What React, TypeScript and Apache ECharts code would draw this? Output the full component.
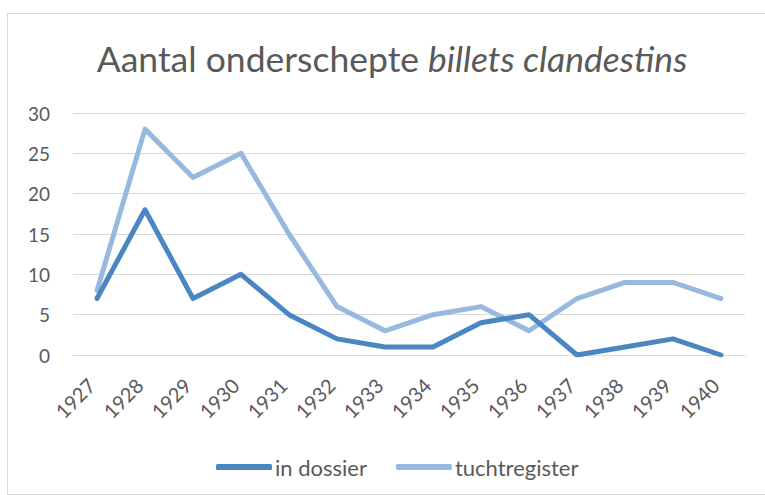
import React, { useEffect, useRef } from "react";
import * as echarts from "echarts";

const years = ["1927","1928","1929","1930","1931","1932","1933","1934","1935","1936","1937","1938","1939","1940"];
const inDossier = [7, 18, 7, 10, 5, 2, 1, 1, 4, 5, 0, 1, 2, 0];
const tuchtregister = [8, 28, 22, 25, 15, 6, 3, 5, 6, 3, 7, 9, 9, 7];
const seriesNames = ["in dossier", "tuchtregister"];
const colors = ["#4a86c1", "#97b9e0"];

export default function App() {
  const ref = useRef<HTMLDivElement>(null);
  useEffect(() => {
    if (!ref.current) return;
    const chart = echarts.init(ref.current, null, { renderer: "svg" });
    const font = "Lato, 'Open Sans', sans-serif";
    chart.setOption({
      animation: false,
      backgroundColor: "transparent",
      title: {
        text: "{n|Aantal onderschepte }{i|billets clandestins}",
        left: 387,
        textAlign: "center",
        top: 35,
        textStyle: {
          fontWeight: "normal",
          rich: {
            n: { fontFamily: font, fontSize: 35.5, color: "#595959", fontWeight: "normal" },
            i: { fontFamily: font, fontSize: 35.5, color: "#595959", fontStyle: "italic", fontWeight: "normal" },
          },
        },
      },
      legend: {
        top: 451,
        left: 211,
        itemWidth: 56,
        itemHeight: 6,
        itemGap: 29,
        icon: "roundRect",
        data: seriesNames,
        textStyle: { fontFamily: font, fontSize: 22, color: "#595959", padding: [0, 0, 0, -2] },
      },
      grid: { left: 73, right: 20, top: 113, bottom: 140 },
      xAxis: {
        type: "category",
        data: years,
        boundaryGap: true,
        axisLine: { show: true, lineStyle: { color: "#d9d9d9", width: 1 } },
        axisTick: { show: false },
        axisLabel: {
          rotate: 45,
          fontFamily: font,
          fontSize: 20,
          color: "#595959",
          margin: 21,
          padding: [0, 8, 0, 0],
        },
      },
      yAxis: {
        type: "value",
        min: 0,
        max: 30,
        interval: 5,
        axisLine: { show: false },
        axisTick: { show: false },
        splitLine: { lineStyle: { color: "#d9d9d9", width: 1 } },
        axisLabel: { fontFamily: font, fontSize: 19, color: "#595959", margin: 23 },
      },
      series: [
        {
          name: seriesNames[0],
          type: "line",
          data: inDossier,
          symbol: "none",
          color: colors[0],
          lineStyle: { width: 5, color: colors[0], cap: "round", join: "round" },
          z: 3,
        },
        {
          name: seriesNames[1],
          type: "line",
          data: tuchtregister,
          symbol: "none",
          color: colors[1],
          lineStyle: { width: 5, color: colors[1], cap: "round", join: "round" },
          z: 2,
        },
      ],
    });
    return () => chart.dispose();
  }, []);
  return (
    <div style={{ position: "absolute", left: 0, top: 0, width: 765, height: 495, background: "#fff" }}>
      <div style={{ position: "absolute", left: 7, top: 13, width: 760, height: 482, border: "1px solid #d9d9d9", boxSizing: "border-box" }} />
      <div ref={ref} style={{ position: "absolute", left: 0, top: 0, width: 765, height: 495 }} />
    </div>
  );
}
